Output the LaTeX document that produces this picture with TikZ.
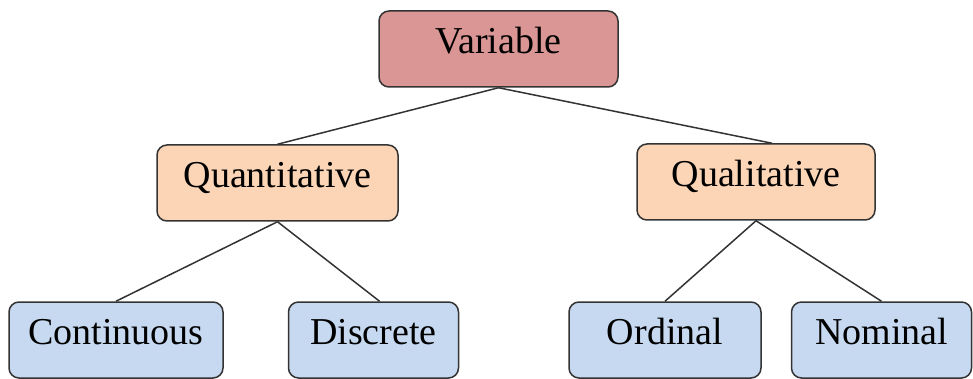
\documentclass[tikz,border=0pt]{standalone}
\usepackage{fontspec}
\setmainfont{Liberation Serif}
\usepackage{tikz}
\usetikzlibrary{positioning}
\definecolor{varred}{HTML}{D99694}
\definecolor{typeorange}{HTML}{FBD5B5}
\definecolor{kindblue}{HTML}{C6D9F1}
\definecolor{edgegray}{HTML}{333333}

\tikzset{
  box/.style={draw=edgegray, line width=0.75pt, rounded corners=5pt,
    minimum height=38pt, inner sep=0pt, text height=0.7em, text depth=0.25em,
    font=\fontsize{19}{22}\selectfont},
  rootbox/.style={box, fill=varred},
  typebox/.style={box, fill=typeorange},
  kindbox/.style={box, fill=kindblue},
  link/.style={draw=edgegray, line width=0.75pt}
}

\begin{document}
\begin{tikzpicture}[x=0.5pt, y=-0.5pt]
  \useasboundingbox (0,0) rectangle (973,379);

  % Nodes
	\node[rootbox, minimum width=119.5pt] (var) at (498.5,49) {Variable};
	\node[typebox, minimum width=120.5pt] (quant) at (277.5,183) {Quantitative};
	\node[typebox, minimum width=119pt] (qual) at (756,182) {Qualitative};

	\node[kindbox, minimum width=107pt] (cont) at (116,340) {Continuous};
	\node[kindbox, minimum width=85pt, right=32pt of cont] (disc) {Discrete};
	\node[kindbox, minimum width=96pt, right=54.5pt of disc] (ord) {Ordinal};
	\node[kindbox, minimum width=90pt, right=14.5pt of ord] (nom) {Nominal};

  % Links
	\draw[link] (var.south) -- (quant.north);
	\draw[link] (var.south) -- ([xshift=8pt]qual.north);

	\draw[link] (quant.south) -- (cont.north);
	\draw[link] (quant.south) -- ([xshift=3pt]disc.north);

	\draw[link] (qual.south) -- (ord.north);
	\draw[link] (qual.south) -- (nom.north);
\end{tikzpicture}
\end{document}
